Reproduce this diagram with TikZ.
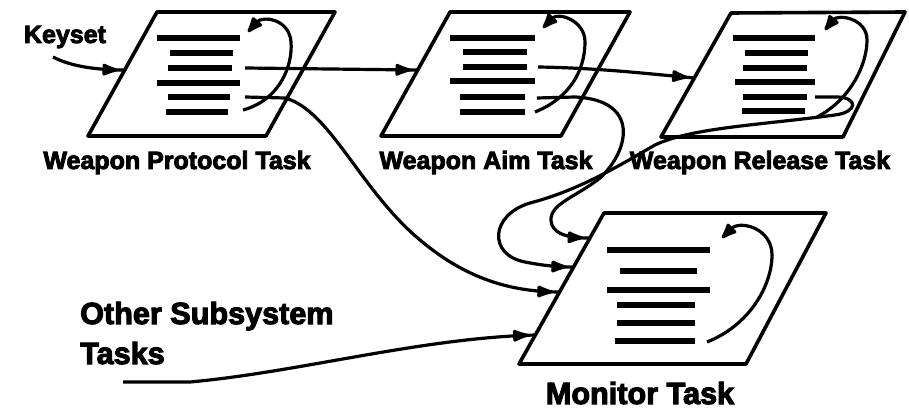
\documentclass[tikz,border=0pt]{standalone}
\usepackage{fontspec}
\newfontfamily\lblfont[FakeBold=3.5]{Liberation Sans Bold}
\usetikzlibrary{arrows.meta,decorations.markings,calc}
\tikzset{
  frame/.style={line width=3.6pt, line join=round},
  txtline/.style={line width=5.5pt},
  conn/.style={line width=3.2pt},
  loopconn/.style={line width=3.2pt, -{Latex[length=20pt,width=15pt,round]}},
  midarrow/.style={postaction={decorate}, decoration={markings, mark=at position -7pt with {\arrow{Latex[length=21pt,width=14pt,round]}}}},
  lbl/.style={font=\lblfont\fontsize{25}{30}\selectfont, inner sep=0pt},
  biglbl/.style={font=\lblfont\fontsize{30.6}{38}\selectfont, inner sep=0pt},
}
\begin{document}
\begin{tikzpicture}[x=1pt,y=-1pt]
\useasboundingbox (0,0) rectangle (909,411);
% Weapon Protocol Task
\coordinate (p1tl) at (157,12); \coordinate (p1tr) at (335,12);
\coordinate (p1br) at (266,136); \coordinate (p1bl) at (88,136);
\draw[frame] (p1tl) -- (p1tr) -- (p1br) -- (p1bl) -- cycle;
\foreach \y/\a/\b in {38/157/240, 53/170/233, 68/168/232, 83/157/240, 97/168/230, 112/166/228}
  \draw[txtline] (\a,\y) -- (\b,\y);
% Weapon Aim Task
\coordinate (p2tl) at (450,12); \coordinate (p2tr) at (630,12);
\coordinate (p2br) at (561,136); \coordinate (p2bl) at (381,136);
\draw[frame] (p2tl) -- (p2tr) -- (p2br) -- (p2bl) -- cycle;
\foreach \y/\a/\b in {38/450/535, 52/463/527, 67/463/527, 81/450/535, 97/460/525, 112/460/525}
  \draw[txtline] (\a,\y) -- (\b,\y);
% Weapon Release Task
\coordinate (p3tl) at (731,13); \coordinate (p3tr) at (905,12);
\coordinate (p3br) at (843,137); \coordinate (p3bl) at (661,137);
\draw[frame] (p3tl) -- (p3tr) -- (p3br) -- (p3bl) -- cycle;
\foreach \y/\a/\b in {38/733/815, 53/745/808, 68/743/807, 82/735/815, 97/743/807, 111/742/805}
  \draw[txtline] (\a,\y) -- (\b,\y);
% Monitor Task
\coordinate (p4tl) at (604,213); \coordinate (p4tr) at (826,213);
\coordinate (p4br) at (746,364); \coordinate (p4bl) at (519,364);
\draw[frame] (p4tl) -- (p4tr) -- (p4br) -- (p4bl) -- cycle;
\foreach \y/\a/\b in {250/607/710, 271/620/697, 290/607/710, 305/617/695, 323/617/695, 341/615/695}
  \draw[txtline] (\a,\y) -- (\b,\y);

% labels
\node[lbl, anchor=base] (lp1) at (177,169) {Weapon Protocol Task};
\node[lbl, anchor=base] (lp2) at (486,169) {Weapon Aim Task};
\node[lbl, anchor=base] (lp3) at (760,169) {Weapon Release Task};
\node[biglbl, anchor=base] (lp4) at (640,404) {Monitor Task};
\node[lbl, anchor=base] (key) at (65,43) {Keyset};
\node[biglbl, anchor=base west] (oth1) at (80,324) {Other Subsystem};
\node[biglbl, anchor=base west] (oth2) at (80,364) {Tasks};

% named start points
\coordinate (ks) at (53,57);
\coordinate (p1o3) at (245,68);
\coordinate (p1o5) at (245,97);
\coordinate (p1o6) at (243,110);
\coordinate (p2o3) at (538,67);
\coordinate (p2o5) at (537,98);
\coordinate (p2o6) at (535,112);
\coordinate (p3o5) at (815,97);
\coordinate (p3o6) at (817,117);
\coordinate (p4o6) at (707,342);
\coordinate (ost) at (123,382);

% connectors
\draw[conn,midarrow] (ks) .. controls (70,66) and (95,70) .. ($(p1tl)!0.468!(p1bl)$);
\draw[conn,midarrow] (p1o3) -- ($(p2tl)!0.468!(p2bl)$);
\draw[conn,midarrow] (p2o3) .. controls (600,68) and (650,74) .. ($(p3tl)!0.524!(p3bl)$);
\draw[conn,midarrow] (p1o5) -- (285,98) .. controls (330,110) and (360,190) .. (420,240)
   .. controls (465,278) and (510,292) .. ($(p4tl)!0.523!(p4bl)$);
\draw[conn,midarrow] (ost) -- (190,382) .. controls (300,372) and (420,338) .. ($(p4tl)!0.808!(p4bl)$);
\draw[conn,midarrow] (p2o5) -- (575,97) .. controls (640,100) and (630,150) .. (600,178)
   .. controls (575,198) and (545,205) .. (552,225) .. controls (556,235) and (570,238) .. ($(p4tl)!0.166!(p4bl)$);
\draw[conn,midarrow] (p3o5) -- (838,97) .. controls (858,98) and (858,112) .. (835,115)
   .. controls (760,125) and (690,128) .. (655,145)
   .. controls (620,165) and (580,190) .. (530,203)
   .. controls (490,215) and (488,255) .. (525,262)
   .. controls (540,265) and (555,267) .. ($(p4tl)!0.358!(p4bl)$);

% self loops
\draw[loopconn] (p1o6) .. controls (280,100) and (293,65) .. (291,42) .. controls (289,18) and (262,16) .. (248,32);
\draw[loopconn] (p2o6) .. controls (570,98) and (585,70) .. (585,42) .. controls (585,20) and (558,12) .. (543,28);
\draw[loopconn] (p3o6) .. controls (850,100) and (867,65) .. (867,40) .. controls (867,18) and (838,14) .. (825,30);
\draw[loopconn] (p4o6) .. controls (750,325) and (772,285) .. (772,255) .. controls (772,228) and (740,220) .. (722,238);
\end{tikzpicture}
\end{document}
